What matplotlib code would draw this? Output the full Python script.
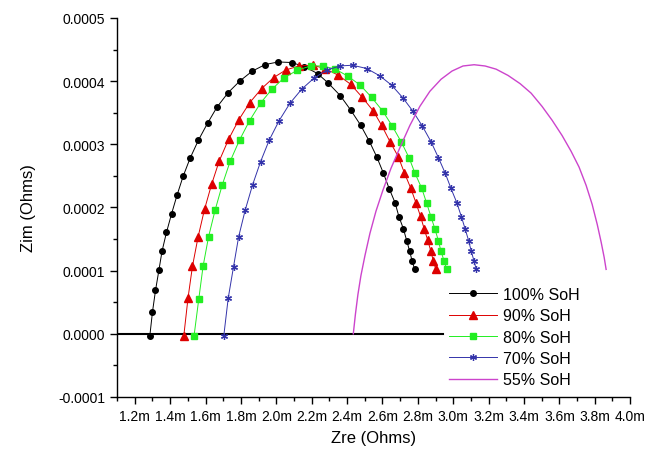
import numpy as np
import matplotlib
matplotlib.use("Agg")
import matplotlib.pyplot as plt
from matplotlib.ticker import MultipleLocator, FuncFormatter

plt.rcParams['font.family'] = ['Liberation Sans', 'DejaVu Sans']

# Zre in milli-ohms, Zim in 1e-4 ohms
zre_100 = [1.285, 1.300, 1.317, 1.336, 1.354, 1.379, 1.408, 1.439, 1.473, 1.513,
           1.560, 1.611, 1.665, 1.728, 1.794, 1.863, 1.937, 2.011, 2.086, 2.158,
           2.233, 2.293, 2.361, 2.420, 2.477, 2.525, 2.567, 2.604, 2.638, 2.671,
           2.693, 2.718, 2.737, 2.754, 2.768, 2.782]
zim_100 = [-0.03, 0.349, 0.686, 1.003, 1.309, 1.605, 1.902, 2.197, 2.493, 2.783,
           3.068, 3.333, 3.591, 3.819, 4.003, 4.157, 4.263, 4.304, 4.295, 4.231,
           4.120, 3.971, 3.772, 3.544, 3.301, 3.052, 2.805, 2.552, 2.298, 2.076,
           1.854, 1.664, 1.474, 1.304, 1.146, 1.019]

zre_90 = [1.477, 1.501, 1.526, 1.558, 1.594, 1.634, 1.677, 1.730, 1.787, 1.850,
          1.917, 1.985, 2.054, 2.129, 2.205, 2.275, 2.350, 2.420, 2.482, 2.548,
          2.595, 2.642, 2.689, 2.724, 2.760, 2.789, 2.815, 2.836, 2.856, 2.873,
          2.887, 2.901]
zim_90 = [-0.03, 0.571, 1.071, 1.537, 1.970, 2.366, 2.735, 3.079, 3.385, 3.661,
          3.883, 4.057, 4.178, 4.241, 4.252, 4.200, 4.094, 3.951, 3.756, 3.528,
          3.301, 3.044, 2.805, 2.547, 2.303, 2.076, 1.859, 1.659, 1.479, 1.312,
          1.158, 1.025]

zre_80 = [1.535, 1.562, 1.586, 1.617, 1.654, 1.694, 1.739, 1.792, 1.849, 1.911,
          1.975, 2.043, 2.118, 2.194, 2.265, 2.334, 2.405, 2.475, 2.538, 2.601,
          2.655, 2.705, 2.750, 2.784, 2.822, 2.850, 2.874, 2.897, 2.916, 2.931,
          2.948, 2.963]
zim_80 = [-0.03, 0.559, 1.071, 1.537, 1.959, 2.355, 2.731, 3.068, 3.376, 3.655,
          3.872, 4.051, 4.173, 4.241, 4.241, 4.189, 4.078, 3.935, 3.745, 3.528,
          3.290, 3.043, 2.789, 2.540, 2.303, 2.065, 1.854, 1.653, 1.474, 1.304,
          1.157, 1.019]

zre_70 = [1.703, 1.728, 1.758, 1.787, 1.824, 1.866, 1.911, 1.960, 2.016, 2.077,
          2.143, 2.212, 2.284, 2.359, 2.431, 2.511, 2.586, 2.652, 2.714, 2.771,
          2.825, 2.874, 2.916, 2.955, 2.987, 3.020, 3.046, 3.068, 3.087, 3.102,
          3.117, 3.130]
zim_70 = [-0.03, 0.564, 1.062, 1.537, 1.959, 2.361, 2.726, 3.068, 3.376, 3.650,
          3.872, 4.046, 4.173, 4.241, 4.252, 4.200, 4.082, 3.935, 3.740, 3.528,
          3.290, 3.043, 2.789, 2.540, 2.303, 2.076, 1.854, 1.653, 1.474, 1.304,
          1.157, 1.019]

zre_55 = [2.435, 2.447, 2.461, 2.478, 2.501, 2.529, 2.563, 2.602, 2.648, 2.699,
          2.755, 2.811, 2.868, 2.931, 2.993, 3.055, 3.118, 3.180, 3.242, 3.310,
          3.378, 3.440, 3.502, 3.559, 3.615, 3.666, 3.711, 3.751, 3.785, 3.814,
          3.836, 3.853, 3.864]
zim_55 = [0.0, 0.31, 0.62, 0.92, 1.24, 1.59, 1.94, 2.27, 2.62, 2.95,
          3.30, 3.60, 3.84, 4.03, 4.16, 4.24, 4.26, 4.24, 4.19, 4.09,
          3.96, 3.81, 3.60, 3.38, 3.14, 2.89, 2.64, 2.35, 2.05, 1.73,
          1.45, 1.21, 1.02]

zero_x = [1.1, 2.942]
zero_y = [0.0, 0.0]

fig = plt.figure(figsize=(6.47, 4.52), dpi=100)
ax = fig.add_axes([0.181, 0.1195, 0.793, 0.8385])

s = 1e-4
ax.plot(zero_x, np.array(zero_y) * s, color='black', lw=1.5, zorder=1)
ax.plot(zre_100, np.array(zim_100) * s, color='black', lw=0.7, marker='o', ms=4,
        label='100% SoH')
ax.plot(zre_90, np.array(zim_90) * s, color='#dd0000', lw=0.7, marker='^', ms=5.5,
        label='90% SoH')
ax.plot(zre_80, np.array(zim_80) * s, color='#22ee22', lw=0.7, marker='s', ms=4,
        label='80% SoH')
ax.plot(zre_70, np.array(zim_70) * s, color='#3333aa', lw=0.7, marker=(6, 2, 0), ms=5,
        mew=0.9, label='70% SoH')
ax.plot(zre_55, np.array(zim_55) * s, color='#cc44cc', lw=1.0, label='55% SoH')

ax.set_xlim(1.1, 4.0)
ax.set_ylim(-0.0001, 0.0005)
ax.xaxis.set_major_locator(MultipleLocator(0.2))
ax.xaxis.set_minor_locator(MultipleLocator(0.1))
ax.yaxis.set_major_locator(MultipleLocator(0.0001))
ax.yaxis.set_minor_locator(MultipleLocator(0.00005))
ax.xaxis.set_major_formatter(FuncFormatter(lambda v, p: '%.1fm' % v))
ax.yaxis.set_major_formatter(FuncFormatter(lambda v, p: '%.4f' % v))
ax.set_xticks([1.2 + 0.2 * i for i in range(15)])

for sp in ['top', 'right']:
    ax.spines[sp].set_visible(False)
ax.spines['left'].set_linewidth(1.0)
ax.spines['bottom'].set_linewidth(1.0)
ax.tick_params(which='major', direction='out', length=5, width=1, labelsize=10)
ax.tick_params(which='minor', direction='out', length=3, width=1)

ax.set_xlabel('Zre (Ohms)', fontsize=12, labelpad=5)
ax.set_ylabel('Zim (Ohms)', fontsize=12, labelpad=16)

ax.legend(loc='lower right', bbox_to_anchor=(0.92, 0.0), frameon=False, fontsize=11.5,
          numpoints=1, handlelength=3.0, handletextpad=0.4, labelspacing=0.4,
          borderaxespad=0.2)

fig.savefig('out.png', dpi=100)
